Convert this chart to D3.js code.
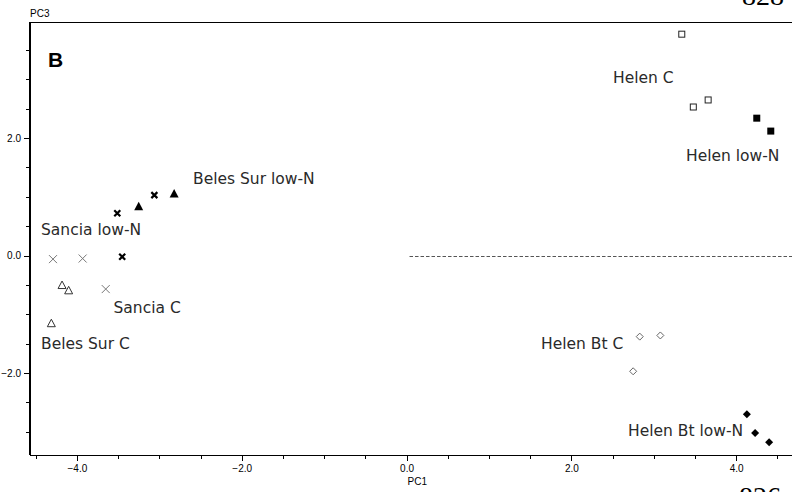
<!DOCTYPE html>
<html>
<head>
<meta charset="utf-8">
<script src="https://cdn.jsdelivr.net/npm/d3@7"></script>
<style>
  body { margin: 0; background: #fff; overflow: hidden; }
  svg { display: block; }
</style>
</head>
<body>
<script>
// PCA scores (PC1, PC3) per group
const groups = ["Helen C", "Helen low-N", "Helen Bt C", "Helen Bt low-N", "Sancia C", "Sancia low-N", "Beles Sur C", "Beles Sur low-N"]
const helenC = [[3.34, 3.77], [3.48, 2.53], [3.66, 2.65]]
const helenLowN = [[4.25, 2.34], [4.42, 2.12]]
const helenBtC = [[2.83, -1.38], [3.08, -1.36], [2.75, -1.97]]
const helenBtLowN = [[4.13, -2.70], [4.23, -3.02], [4.40, -3.18]]
const sanciaC = [[-4.29, -0.06], [-3.93, -0.05], [-3.65, -0.57]]
const sanciaLowN = [[-3.51, 0.72], [-3.45, -0.02], [-3.06, 1.03]]
const belesC = [[-4.18, -0.51], [-4.10, -0.60], [-4.31, -1.16]]
const belesLowN = [[-3.25, 0.83], [-2.82, 1.05]]

const xTicks = [-4.0, -2.0, 0.0, 2.0, 4.0]
const yTicks = [-2.0, 0.0, 2.0]
const xMinor = d3.range(-4.5, 4.51, 0.5)
const yMinor = d3.range(-3.0, 3.51, 0.5)

const w = 792
const h = 492
const pLeft = 29.5, pTop = 22.5, pBottom = 454.5, pRight = 795.5

const xScale = d3.scaleLinear().domain([-4.575, 4.72]).range([pLeft, pRight])
const yScale = d3.scaleLinear().domain([-3.387, 3.969]).range([pBottom, pTop])

const svg = d3.select("body").append("svg")
              .attr("width", w)
              .attr("height", h)

// frame
svg.append("path")
   .attr("d", `M${pLeft},${pBottom}V${pTop}H${pRight}`)
   .attr("fill", "none")
   .attr("stroke", "#000")
   .attr("stroke-width", 1)
   .attr("shape-rendering", "crispEdges")

const fmt = d3.format(".1f")

// x axis: minor ticks then labelled ticks
svg.append("g")
   .attr("transform", "translate(0," + pBottom + ")")
   .call(d3.axisBottom(xScale).tickValues(xMinor).tickSize(4).tickSizeOuter(0).tickFormat(""))
svg.append("g")
   .attr("transform", "translate(0," + pBottom + ")")
   .call(d3.axisBottom(xScale).tickValues(xTicks).tickSize(6).tickSizeOuter(0).tickPadding(4).tickFormat(fmt))

svg.append("g")
   .attr("transform", "translate(" + pLeft + ",0)")
   .call(d3.axisLeft(yScale).tickValues(yMinor).tickSize(4).tickSizeOuter(0).tickFormat(""))
svg.append("g")
   .attr("transform", "translate(" + pLeft + ",0)")
   .call(d3.axisLeft(yScale).tickValues(yTicks).tickSize(5.5).tickSizeOuter(0).tickPadding(3).tickFormat(fmt))

svg.selectAll(".domain").attr("stroke", "#000").attr("shape-rendering", "crispEdges")
svg.selectAll(".tick line").attr("stroke", "#000").attr("shape-rendering", "crispEdges")
svg.selectAll(".tick text")
   .attr("font-family", "Liberation Sans, Arial, sans-serif")
   .attr("font-size", 10)
   .attr("fill", "#000")

svg.append("text").text("PC1")
   .attr("x", xScale(0) + 1).attr("y", 485)
   .attr("font-family", "Liberation Sans, Arial, sans-serif").attr("font-size", 10)
svg.append("text").text("PC3")
   .attr("x", pLeft + 0.5).attr("y", 17)
   .attr("font-family", "Liberation Sans, Arial, sans-serif").attr("font-size", 10)

svg.append("text").text("B")
   .attr("x", 48).attr("y", 67)
   .attr("font-family", "Liberation Sans, Arial, sans-serif")
   .attr("font-weight", "bold")
   .attr("font-size", 21)

// dashed reference line at PC3 = 0
svg.append("line")
   .attr("x1", xScale(0) + 3).attr("x2", w)
   .attr("y1", Math.round(yScale(0)) + 0.5).attr("y2", Math.round(yScale(0)) + 0.5)
   .attr("stroke", "#555")
   .attr("stroke-dasharray", "3.5,2")

// markers
const g = svg.append("g")
function plot(data, draw) {
    data.forEach((d) => {
        draw(xScale(d[0]), yScale(d[1]))
    })
}
plot(helenC, (x, y) => g.append("rect").attr("x", x - 3).attr("y", y - 3).attr("width", 6).attr("height", 6)
     .attr("fill", "#fff").attr("stroke", "#222"))
plot(helenLowN, (x, y) => g.append("rect").attr("x", x - 3.5).attr("y", y - 3.5).attr("width", 7).attr("height", 7)
     .attr("fill", "#000"))
plot(helenBtC, (x, y) => g.append("path").attr("d", `M${x},${y - 3.5}L${x + 3.5},${y}L${x},${y + 3.5}L${x - 3.5},${y}Z`)
     .attr("fill", "#fff").attr("stroke", "#666"))
plot(helenBtLowN, (x, y) => g.append("path").attr("d", `M${x},${y - 4}L${x + 4},${y}L${x},${y + 4}L${x - 4},${y}Z`)
     .attr("fill", "#000"))
plot(sanciaC, (x, y) => g.append("path").attr("d", `M${x - 4},${y - 4}L${x + 4},${y + 4}M${x - 4},${y + 4}L${x + 4},${y - 4}`)
     .attr("stroke", "#777").attr("stroke-width", 1))
plot(sanciaLowN, (x, y) => g.append("path").attr("d", `M${x - 3},${y - 3}L${x + 3},${y + 3}M${x - 3},${y + 3}L${x + 3},${y - 3}`)
     .attr("stroke", "#000").attr("stroke-width", 2.2))
plot(belesC, (x, y) => g.append("path").attr("d", `M${x},${y - 4.5}L${x + 4},${y + 3}L${x - 4},${y + 3}Z`)
     .attr("fill", "#fff").attr("stroke", "#333"))
plot(belesLowN, (x, y) => g.append("path").attr("d", `M${x},${y - 5}L${x + 4.5},${y + 3.5}L${x - 4.5},${y + 3.5}Z`)
     .attr("fill", "#000"))

// group labels
const labelPos = [[613, 83.3], [686, 160.7], [541, 349.3], [628, 436], [113.5, 312.7], [41, 235], [41, 348.7], [193, 183.5]]
svg.selectAll(".lab")
   .data(groups)
   .enter()
   .append("text")
   .attr("class", "lab")
   .attr("x", (d, i) => labelPos[i][0])
   .attr("y", (d, i) => labelPos[i][1])
   .attr("font-family", "DejaVu Sans, Verdana, sans-serif")
   .attr("font-size", 15.5)
   .attr("fill", "#2a2a2a")
   .text((d) => d)

// page numbers bleeding in from the scan
svg.append("text").text("828")
   .attr("x", 742).attr("y", 5)
   .attr("font-family", "Liberation Serif, serif").attr("font-size", 28)
svg.append("text").text("826")
   .attr("x", 739).attr("y", 506)
   .attr("font-family", "Liberation Serif, serif").attr("font-size", 28)
</script>
</body>
</html>
